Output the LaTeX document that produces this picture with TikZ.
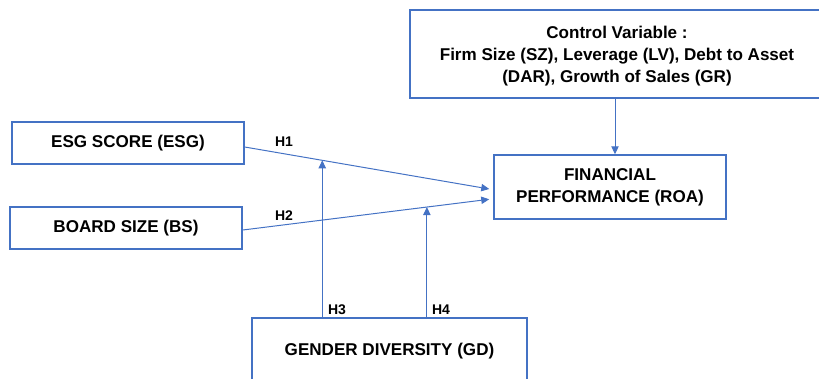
\documentclass[tikz,border=0pt]{standalone}
\usepackage{fontspec}
\setmainfont{Liberation Sans}
\usetikzlibrary{arrows.meta}
\definecolor{boxblue}{HTML}{4472C4}
\tikzstyle{varbox}=[draw=boxblue, line width=1.1pt, align=center, font=\fontsize{12.8}{16.5}\selectfont\bfseries]
\tikzstyle{link}=[draw=boxblue, line width=0.75pt, -{Triangle[length=6pt, width=5.5pt]}]
\tikzstyle{hyp}=[font=\fontsize{10.5}{12}\selectfont\bfseries, inner sep=0pt]

\begin{document}
\begin{tikzpicture}[x=0.75pt, y=-0.75pt]
      \useasboundingbox (0, 0) rectangle (819, 379);
      \node[varbox, minimum width=310.5pt, minimum height=66pt, text depth=-3pt] (ctrl) at (617, 54)
        {Control Variable :\\Firm Size (SZ), Leverage (LV), Debt to Asset\\(DAR), Growth of Sales (GR)};
      \node[varbox, minimum width=174pt, minimum height=31.5pt] (esg) at (128, 143) {ESG SCORE (ESG)};
      \node[varbox, minimum width=174pt, minimum height=31.5pt] (bs) at (126, 228) {BOARD SIZE (BS)};
      \node[varbox, minimum width=174pt, minimum height=48pt] (roa) at (610, 187)
        {FINANCIAL\\PERFORMANCE (ROA)};
      \node[varbox, minimum width=206.25pt, minimum height=49.5pt] (gd) at (389.5, 351)
        {GENDER DIVERSITY (GD)};
      \draw[link] ([yshift=-3pt]esg.east)
        -- coordinate[pos=0.317] (m1) ([xshift=-3pt, yshift=-1.5pt]roa.west);
      \draw[link] ([yshift=-1.5pt]bs.east)
        -- coordinate[pos=0.747] (m2) ([xshift=-3pt, yshift=-9.2pt]roa.west);
      \draw[link] ([xshift=-1.5pt]ctrl.south) -- ([xshift=-1.5pt]ctrl.south |- roa.north);
      \draw[link] (gd.north -| m1) -- (m1);
      \draw[link] (gd.north -| m2) -- (m2);
      \node[hyp] (h1) at (284, 142) {H1};
      \node[hyp] (h2) at (284, 216) {H2};
      \node[hyp] (h3) at (337, 310) {H3};
      \node[hyp] (h4) at (441, 310) {H4};
    \end{tikzpicture}
\end{document}
